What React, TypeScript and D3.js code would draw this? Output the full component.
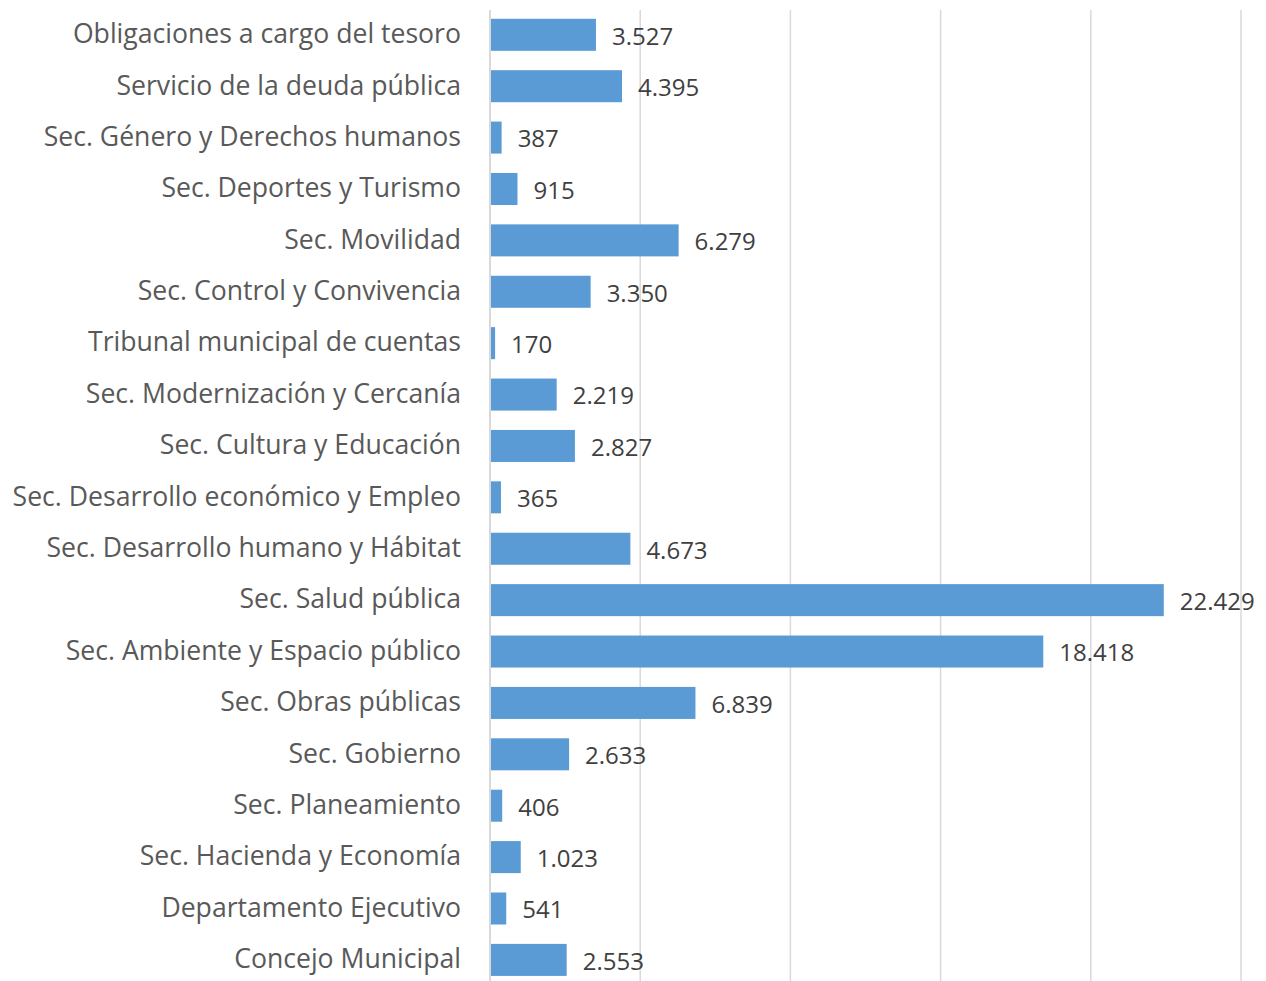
import React from "react";
import * as d3 from "d3";

const categories = [
  "Obligaciones a cargo del tesoro",
  "Servicio de la deuda pública",
  "Sec. Género y Derechos humanos",
  "Sec. Deportes y Turismo",
  "Sec. Movilidad",
  "Sec. Control y Convivencia",
  "Tribunal municipal de cuentas",
  "Sec. Modernización y Cercanía",
  "Sec. Cultura y Educación",
  "Sec. Desarrollo económico y Empleo",
  "Sec. Desarrollo humano y Hábitat",
  "Sec. Salud pública",
  "Sec. Ambiente y Espacio público",
  "Sec. Obras públicas",
  "Sec. Gobierno",
  "Sec. Planeamiento",
  "Sec. Hacienda y Economía",
  "Departamento Ejecutivo",
  "Concejo Municipal",
];

const values = [
  3527, 4395, 387, 915, 6279, 3350, 170, 2219, 2827, 365, 4673, 22429, 18418,
  6839, 2633, 406, 1023, 541, 2553,
];

const xTicks = [0, 5000, 10000, 15000, 20000, 25000];

const fmt = (v: number) =>
  d3.format(",")(v).replace(/,/g, ".");

export default function App() {
  const W = 1266;
  const H = 981;
  const x = d3.scaleLinear().domain([0, 25000]).range([490, 1241]);
  const y = d3
    .scaleBand<string>()
    .domain(categories)
    .range([9.1, 985.6])
    .paddingInner(0.377)
    .paddingOuter(0.1885);
  const font = "'Open Sans', 'Noto Sans', sans-serif";
  return (
    <svg
      width={W}
      height={H}
      style={{ position: "absolute", left: 0, top: 0, background: "#fff" }}
    >
      {xTicks.slice(1).map((t) => (
        <line
          key={t}
          x1={x(t)}
          x2={x(t)}
          y1={10}
          y2={981}
          stroke="#d9d9d9"
          strokeWidth={1.5}
        />
      ))}
      {categories.map((c, i) => (
        <rect
          key={c}
          x={x(0)}
          y={y(c)!}
          width={x(values[i]) - x(0)}
          height={y.bandwidth()}
          fill="#5b9bd5"
        />
      ))}
      <line x1={x(0)} x2={x(0)} y1={10} y2={981} stroke="#d9d9d9" strokeWidth={2} />
      {categories.map((c) => (
        <text
          key={c}
          x={461}
          y={y(c)! + y.bandwidth() / 2 - 1}
          dy="0.35em"
          textAnchor="end"
          fontFamily={font}
          fontSize={26.6}
          fill="#595959"
        >
          {c}
        </text>
      ))}
      {categories.map((c, i) => (
        <text
          key={c}
          x={x(values[i]) + 16}
          y={y(c)! + y.bandwidth() / 2 + 1.5}
          dy="0.35em"
          textAnchor="start"
          fontFamily={font}
          fontSize={24}
          fill="#404040"
        >
          {fmt(values[i])}
        </text>
      ))}
    </svg>
  );
}
